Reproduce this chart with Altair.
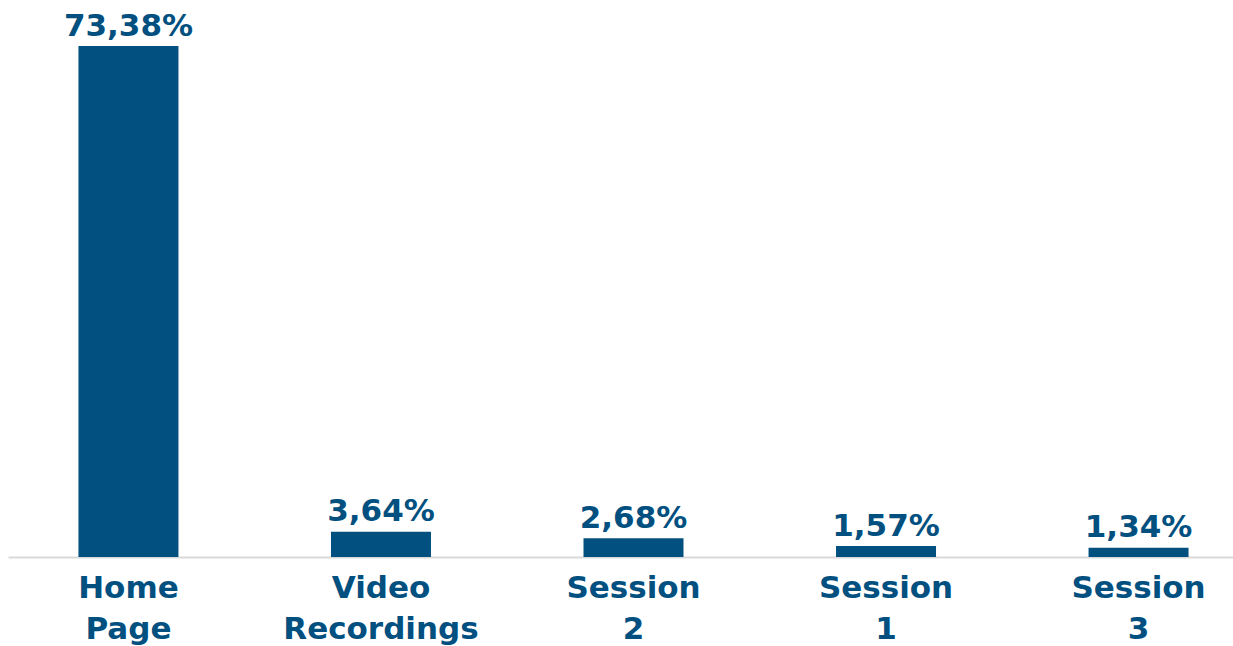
import altair as alt
import pandas as pd

categories = ["Home\nPage", "Video\nRecordings", "Session\n2", "Session\n1", "Session\n3"]
values = [73.38, 3.64, 2.68, 1.57, 1.34]
value_labels = ["73,38%", "3,64%", "2,68%", "1,57%", "1,34%"]

df = pd.DataFrame({"cat": categories, "value": values, "label": value_labels})

COLOR = "#02507F"
FONT = "DejaVu Sans"

x = alt.X("cat:N", sort=categories,
          scale=alt.Scale(range=[0, 1251], paddingInner=0.604, paddingOuter=0.279),
          axis=alt.Axis(title=None, labels=False, ticks=False, domain=True,
                        domainColor="#d9d9d9", domainWidth=2, grid=False))
y = alt.Y("value:Q", scale=alt.Scale(domain=[0, 80], nice=False, zero=True), axis=None)

base = alt.Chart(df)

bars = base.mark_bar(color=COLOR).encode(x=x, y=y)

vals = base.mark_text(color=COLOR, font=FONT, fontWeight="bold", fontSize=31,
                      baseline="alphabetic", align="center", dy=-10.5).encode(
    x=x, y=y, text="label:N")

cats = base.mark_text(color=COLOR, font=FONT, fontWeight="bold", fontSize=31,
                      baseline="alphabetic", align="center", lineBreak="\n",
                      lineHeight=41).encode(
    x=x, y=alt.value(598), text="cat:N")

chart = alt.layer(bars, vals, cats).properties(
    width=1225, height=557,
    autosize=alt.AutoSizeParams(type="none"),
    padding={"left": 8, "top": 0, "right": 0, "bottom": 89},
    background="white",
).configure_view(stroke=None)

chart.save("out.html", embed_options={"renderer": "svg", "actions": False})
